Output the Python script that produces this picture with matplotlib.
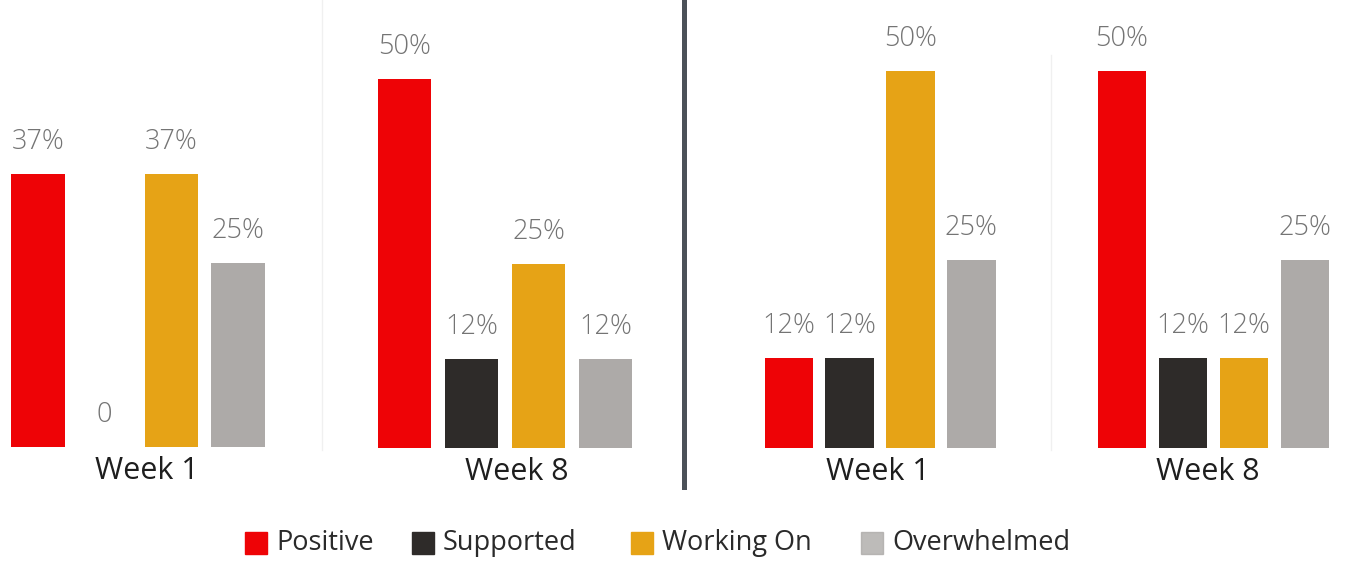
import matplotlib
matplotlib.use("Agg")
import matplotlib.pyplot as plt
from matplotlib.patches import Rectangle
from matplotlib.lines import Line2D

# data
categories = ["Positive", "Supported", "Working On", "Overwhelmed"]
left_week1 = [37, 0, 37, 25]
left_week8 = [50, 12, 25, 12]
right_week1 = [12, 12, 50, 25]
right_week8 = [50, 12, 12, 25]
group_labels = ["Week 1", "Week 8", "Week 1", "Week 8"]

colors = ["#ee0306", "#2e2b29", "#e6a316", "#adaaa8"]

W, H = 1345, 563
fig = plt.figure(figsize=(W / 100, H / 100), dpi=100)
fig.patch.set_facecolor("white")

FONT = ["Open Sans", "DejaVu Sans"]

# layout per group: first bar centre px, spacing px, baseline px (from top), px per %, label x (data)
layout = [
    (38, 66.7, 447, 7.38, 1.63),
    (404.5, 67.0, 448, 7.38, 1.68),
    (789, 60.8, 448, 7.54, 1.46),
    (1122, 61.0, 448, 7.54, 1.41),
]
groups = [left_week1, left_week8, right_week1, right_week8]
YMAX = 58

for vals, lab, (c0, sp, base, ppp, lx) in zip(groups, group_labels, layout):
    left = (c0 - sp / 2) / W
    width = 4 * sp / W
    bottom = (H - base) / H
    height = YMAX * ppp / H
    ax = fig.add_axes([left, bottom, width, height])
    ax.set_xlim(-0.5, 3.5)
    ax.set_ylim(0, YMAX)
    ax.axis("off")
    bars = ax.bar(range(4), vals, width=0.8, color=colors)
    for b, v in zip(bars, vals):
        txt = f"{v}%" if v else "0"
        ax.annotate(txt, (b.get_x() + b.get_width() / 2, v), xytext=(0, 23),
                    textcoords="offset points", ha="center", va="center",
                    fontsize=19.5, color="#747474", family=FONT, fontweight="light",
                    annotation_clip=False)
    ax.annotate(lab, (lx, 0), xytext=(0, -17), textcoords="offset points",
                ha="center", va="center", fontsize=22, color="#1e1e1e",
                family=FONT, annotation_clip=False)

# separators
fig.add_artist(Line2D([322 / W] * 2, [1 - 450 / H, 1.0], color="#f0f0f0", lw=1))
fig.add_artist(Line2D([1051 / W] * 2, [1 - 450 / H, 1 - 55 / H], color="#f0f0f0", lw=1))
fig.add_artist(Line2D([684 / W] * 2, [1 - 487 / H, 1.0], color="#4b5158", lw=3.6))

# legend
leg_y = 543
leg_x = [245, 412, 631, 861]
for name, col, x in zip(categories, colors, leg_x):
    sq = 22
    fig.add_artist(Rectangle((x / W, (H - leg_y - sq / 2) / H), sq / W, sq / H,
                             transform=fig.transFigure, color=col,
                             alpha=0.8 if name == "Overwhelmed" else 1.0))
    fig.text((x + sq + 9) / W, (H - leg_y) / H, name, ha="left", va="center",
             fontsize=19.5, color="#2a2a2a", family=FONT)

fig.savefig("out.png", dpi=100)
